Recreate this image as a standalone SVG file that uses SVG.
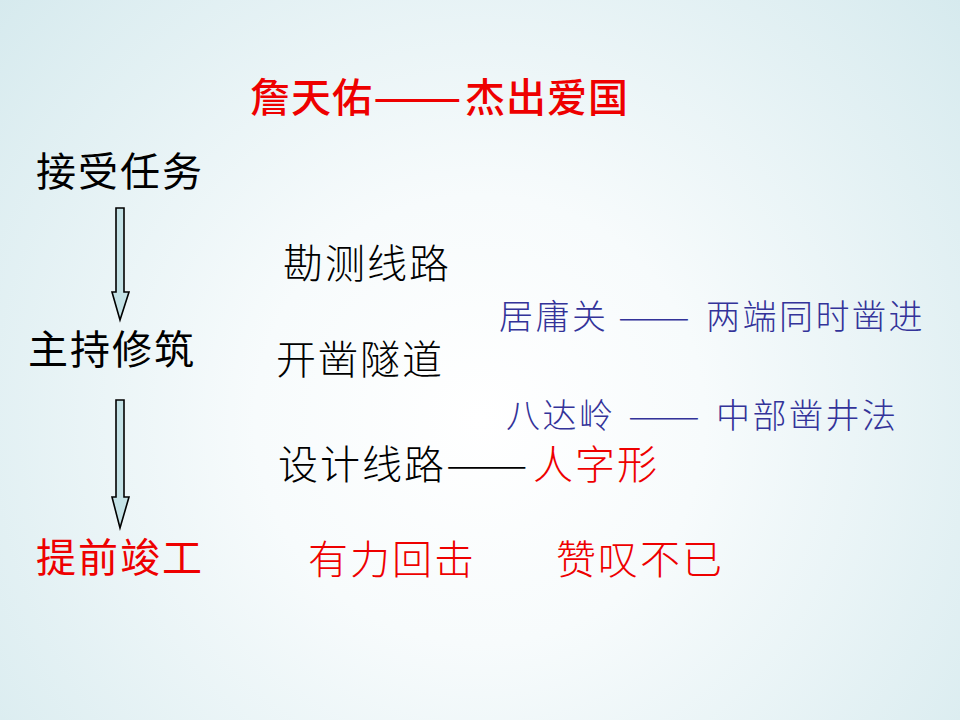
<svg xmlns="http://www.w3.org/2000/svg" width="960" height="720" viewBox="0 0 960 720">
<defs>
<radialGradient id="bg" cx="480" cy="420" r="640" gradientUnits="userSpaceOnUse">
<stop offset="0" stop-color="#ffffff"/>
<stop offset="0.35" stop-color="#f7fbfc"/>
<stop offset="1" stop-color="#d6eaee"/>
</radialGradient>
<style>
text{font-family:"Noto Sans CJK SC","Noto Sans",sans-serif;}
.title{font-size:40px;fill:#ee0000;font-weight:500;letter-spacing:1px;}
.left{font-size:40px;fill:#000;letter-spacing:2px;}
.mid{font-size:40px;fill:#000;letter-spacing:2px;font-weight:300;}
.red{fill:#ee0000;}
.blue{font-size:34px;fill:#333399;letter-spacing:2.5px;font-weight:300;}
.arrow{fill:#c4e2e6;stroke:#000;stroke-width:1.6;stroke-linejoin:miter;}
</style>
</defs>
<rect width="960" height="720" fill="url(#bg)"/>
<g id="title">
<text class="title" x="250" y="112">詹天佑</text>
<text class="title" x="373" y="112" letter-spacing="0" textLength="90" lengthAdjust="spacingAndGlyphs">——</text>
<text class="title" x="465" y="112">杰出爱国</text>
</g>
<g id="node-accept"><text class="left" x="36" y="186">接受任务</text></g>
<g id="node-build"><text class="left" x="28" y="364">主持修筑</text></g>
<g id="node-finish"><text class="left red" x="36" y="572">提前竣工</text></g>
<g id="survey"><text class="mid" x="283" y="278">勘测线路</text></g>
<g id="tunnel"><text class="mid" x="276" y="374">开凿隧道</text></g>
<g id="design">
<text class="mid" x="278" y="479">设计线路</text>
<text class="mid" x="446" y="479" letter-spacing="0" textLength="84" lengthAdjust="spacingAndGlyphs">——</text>
<text class="mid red" x="533" y="479">人字形</text>
</g>
<g id="juyong">
<text class="blue" x="499" y="329">居庸关</text>
<text class="blue" x="618" y="329" letter-spacing="0" textLength="75" lengthAdjust="spacingAndGlyphs">——</text>
<text class="blue" x="706" y="329">两端同时凿进</text>
</g>
<g id="badaling">
<text class="blue" x="506" y="428">八达岭</text>
<text class="blue" x="628" y="428" letter-spacing="0" textLength="75" lengthAdjust="spacingAndGlyphs">——</text>
<text class="blue" x="716" y="428">中部凿井法</text>
</g>
<g id="counter"><text class="mid red" x="308" y="574">有力回击</text></g>
<g id="praise"><text class="mid red" x="556" y="574">赞叹不已</text></g>
<g id="connectors">
<path class="arrow" d="M116,208 L124,208 L124,292 L129,292 L120,320 L112,292 L116,292 Z"/>
<path class="arrow" d="M116,400 L124,400 L124,497 L129,497 L120,528 L112,497 L116,497 Z"/>
</g>
</svg>
